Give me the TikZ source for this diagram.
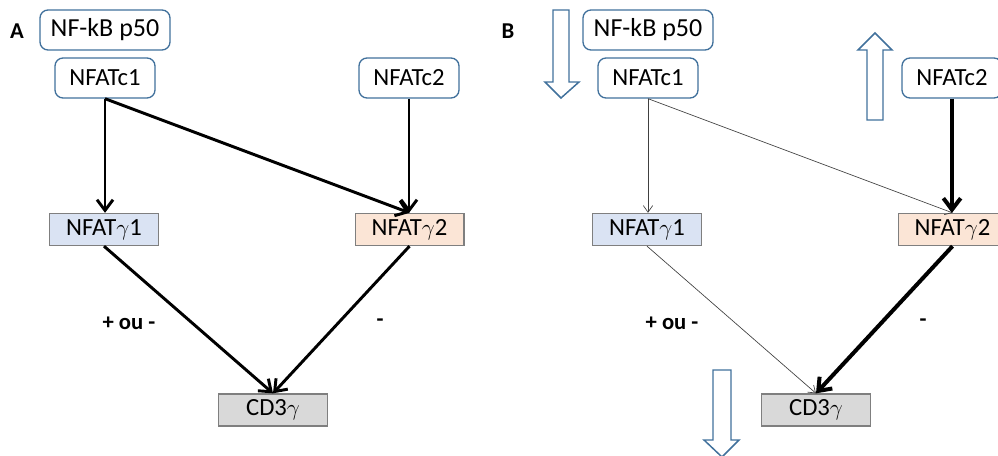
\documentclass[tikz,border=0pt]{standalone}
\usepackage{fontspec}
\setmainfont{Carlito}
\usetikzlibrary{arrows.meta}
\definecolor{rbord}{HTML}{41719C}
\definecolor{gbord}{HTML}{7F7F7F}
\definecolor{fblue}{HTML}{DAE3F3}
\definecolor{forange}{HTML}{FBE5D6}
\definecolor{fgray}{HTML}{D9D9D9}
\tikzset{
  rbox/.style={draw=rbord, line width=1pt, rounded corners=6pt, fill=white,
    minimum width=75pt, minimum height=30pt, inner sep=0pt,
    font=\fontsize{18.5}{22}\selectfont},
  sbox/.style={draw=gbord, line width=1pt, minimum width=81.5pt, minimum height=24pt,
    inner sep=0pt, font=\fontsize{18.5}{22}\selectfont},
  lbl/.style={font=\fontsize{17}{20}\selectfont\bfseries, inner sep=0pt},
  thickarr/.style={line width=2.2pt, -{Straight Barb[length=8pt,width=12pt,line width=2.2pt]}},
  heavyarr/.style={line width=3pt, -{Straight Barb[length=8.5pt,width=13pt,line width=3pt]}},
  thinarr/.style={line width=0.5pt, draw=black!75, -{Straight Barb[length=5pt,width=7pt,line width=0.5pt]}},
  hollow/.style={draw=rbord, line width=1.1pt, fill=white, line join=miter},
}
\begin{document}
\begin{tikzpicture}[x=0.75pt,y=-0.75pt]
\useasboundingbox (0,0) rectangle (998,456);
% Panel A
\node[lbl] (la) at (17,31) {A};
\node[rbox, minimum width=97.5pt, font=\fontsize{19.5}{22}\selectfont] (nfkbA) at (105,30) {NF-kB p50};
\node[rbox] (c1A) at (105,78) {NFATc1};
\node[rbox] (c2A) at (409,78) {NFATc2};
\node[sbox, fill=fblue] (g1A) at (104,229.5) {NFAT$\gamma$1};
\node[sbox, fill=forange] (g2A) at (409.5,229.5) {NFAT$\gamma$2};
\node[sbox, fill=fgray] (cdA) at (273,410) {CD3$\gamma$};
\node[lbl] (pmA) at (129,323) {+ ou -};
\node[lbl] (mA) at (380,323) {-};
\draw[thickarr] (c1A.south) -- (c1A.south |- g1A.north);
\draw[thickarr] (c1A.south) -- (g2A.north);
\draw[thickarr] (c2A.south) -- (c2A.south |- g2A.north);
\draw[thickarr] (g1A.south) -- (cdA.north);
\draw[thickarr] (g2A.south) -- (cdA.north);
% Panel B
\node[lbl] (lb) at (508,31) {B};
\node[rbox, minimum width=97.5pt, font=\fontsize{19.5}{22}\selectfont] (nfkbB) at (648,30) {NF-kB p50};
\node[rbox] (c1B) at (648,78) {NFATc1};
\node[rbox] (c2B) at (952,78) {NFATc2};
\node[sbox, fill=fblue] (g1B) at (647,229.5) {NFAT$\gamma$1};
\node[sbox, fill=forange] (g2B) at (952.5,229.5) {NFAT$\gamma$2};
\node[sbox, fill=fgray] (cdB) at (816,410) {CD3$\gamma$};
\node[lbl] (pmB) at (672,323) {+ ou -};
\node[lbl] (mB) at (923,323) {-};
\draw[thinarr] (c1B.south) -- (c1B.south |- g1B.north);
\draw[thinarr] (c1B.south) -- (g2B.north);
\draw[heavyarr] (c2B.south) -- (c2B.south |- g2B.north);
\draw[thinarr] (g1B.south) -- (cdB.north);
\draw[heavyarr] (g2B.south) -- (cdB.north);
% hollow block arrows
\draw[hollow] (553,10) -- (569,10) -- (569,82) -- (579,82) -- (561,98) -- (545,82) -- (553,82) -- cycle;
\draw[hollow] (867,120) -- (883,120) -- (883,50) -- (892,50) -- (875,33) -- (858,50) -- (867,50) -- cycle;
\draw[hollow] (713,370) -- (731,370) -- (731,440) -- (739,440) -- (722,457) -- (704,440) -- (713,440) -- cycle;
\end{tikzpicture}
\end{document}
